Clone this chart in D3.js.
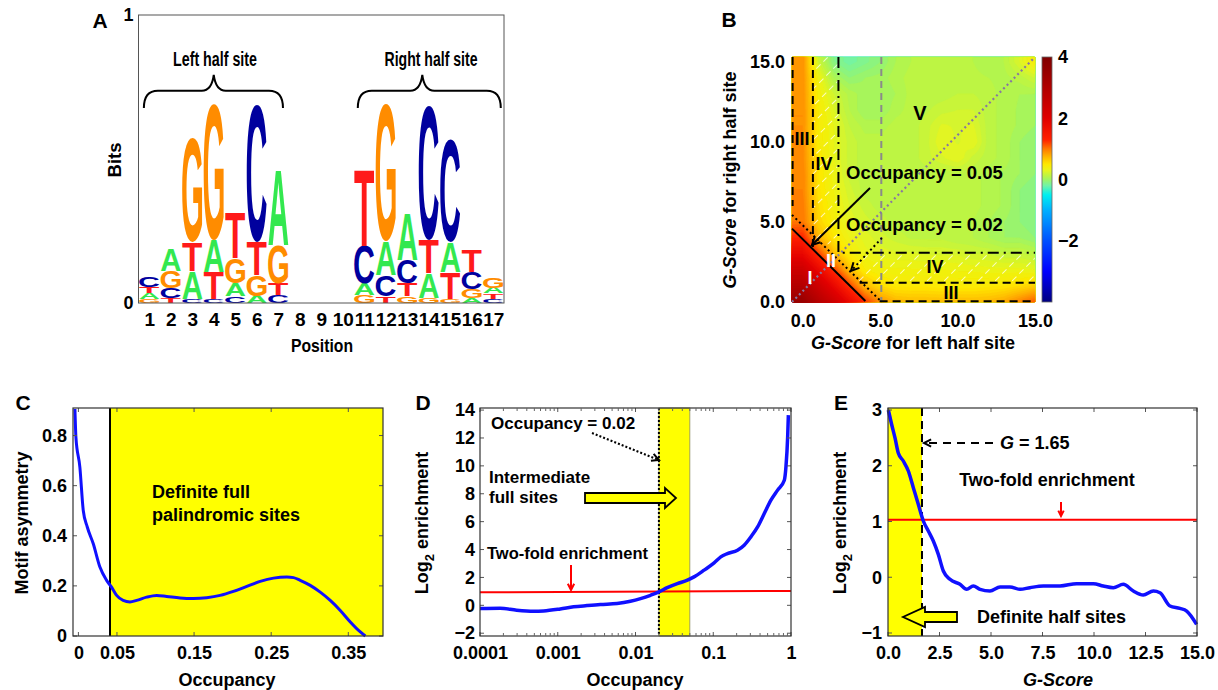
<!DOCTYPE html>
<html><head><meta charset="utf-8">
<script src="https://cdn.jsdelivr.net/npm/d3@7"></script>
<style>
body{margin:0;background:#fff;}
svg text{font-family:"Liberation Sans",Arial,sans-serif;font-weight:bold;fill:#000;}
</style></head><body>
<svg id="fig" width="1218" height="690" xmlns="http://www.w3.org/2000/svg"></svg>
<script>
// ================= DATA =================
// Panel A: sequence logo (bottom -> top, bits)
const logoPositions = [1,2,3,4,5,6,7,8,9,10,11,12,13,14,15,16,17];
const logoStacks = [
  [["G",0.014],["A",0.021],["T",0.021],["C",0.035]],
  [["T",0.017],["C",0.035],["G",0.058],["A",0.078]],
  [["C",0.014],["A",0.096],["T",0.100],["G",0.360]],
  [["C",0.014],["T",0.093],["A",0.113],["G",0.470]],
  [["C",0.023],["A",0.046],["G",0.087],["T",0.156]],
  [["A",0.025],["G",0.072],["T",0.115],["C",0.477]],
  [["C",0.029],["T",0.040],["G",0.133],["A",0.263]],
  [], [], [],
  [["G",0.029],["A",0.040],["C",0.130],["T",0.266]],
  [["T",0.023],["C",0.075],["A",0.116],["G",0.477]],
  [["G",0.023],["T",0.046],["C",0.081],["A",0.160]],
  [["G",0.017],["A",0.087],["T",0.116],["C",0.465]],
  [["G",0.015],["T",0.091],["A",0.105],["C",0.358]],
  [["A",0.017],["G",0.031],["C",0.061],["T",0.078]],
  [["C",0.014],["T",0.019],["A",0.020],["G",0.037]]
];
const logoYTicks = [0, 1];
const baseColors = {A:"#33e84f", C:"#00009e", G:"#ff8c00", T:"#ff1a1a"};

// Panel B: log2 enrichment grid, G-score left (cols 0..15) x right (rows, listed y=15 down to y=0)
const heatGX = [0,1,2,3,4,5,6,7,8,9,10,11,12,13,14,15];
const heatGY = [15,14,13,12,11,10,9,8,7,6,5,4,3,2,1,0];
const heatRows = [
  [0.90,0.20,-0.10,-0.18,-0.12,-0.05,0.05,0.10,0.12,0.12,0.12,0.10,0.05,0.10,0.25,0.45],
  [0.90,0.35,0.05,-0.05,0.00,0.02,0.08,0.12,0.12,0.12,0.12,0.12,0.10,0.08,0.12,0.20],
  [0.90,0.40,0.20,0.08,0.02,0.00,0.05,0.12,0.12,0.12,0.15,0.15,0.12,0.08,0.05,0.05],
  [0.90,0.45,0.25,0.10,0.00,0.00,0.08,0.12,0.14,0.18,0.20,0.20,0.12,0.08,0.04,0.00],
  [0.90,0.45,0.30,0.15,0.08,0.08,0.12,0.12,0.18,0.26,0.24,0.26,0.12,0.08,0.04,0.00],
  [0.92,0.45,0.30,0.18,0.12,0.12,0.12,0.12,0.18,0.30,0.24,0.30,0.12,0.08,0.00,-0.05],
  [0.92,0.50,0.30,0.18,0.12,0.12,0.12,0.12,0.18,0.24,0.30,0.18,0.12,0.08,0.00,-0.05],
  [0.95,0.50,0.33,0.18,0.12,0.12,0.12,0.12,0.12,0.12,0.12,0.12,0.08,0.04,0.00,-0.05],
  [0.95,0.52,0.35,0.22,0.12,0.12,0.12,0.12,0.12,0.12,0.12,0.12,0.08,0.04,-0.05,-0.10],
  [0.98,0.55,0.38,0.25,0.18,0.12,0.12,0.12,0.12,0.12,0.12,0.12,0.08,0.04,-0.05,-0.10],
  [1.00,0.60,0.42,0.28,0.22,0.18,0.12,0.12,0.12,0.12,0.12,0.10,0.05,0.00,-0.05,-0.10],
  [1.30,0.75,0.50,0.35,0.28,0.22,0.18,0.14,0.14,0.14,0.10,0.10,0.05,0.00,0.00,-0.05],
  [1.80,1.20,0.70,0.45,0.32,0.28,0.26,0.26,0.24,0.24,0.24,0.20,0.20,0.16,0.16,0.12],
  [2.40,1.80,1.20,0.70,0.45,0.38,0.36,0.36,0.36,0.36,0.34,0.34,0.32,0.32,0.32,0.30],
  [2.90,2.40,1.80,1.20,0.72,0.55,0.48,0.48,0.48,0.46,0.46,0.46,0.48,0.50,0.55,0.62],
  [3.50,2.90,2.40,1.80,1.25,0.90,0.75,0.72,0.72,0.72,0.72,0.72,0.74,0.80,0.95,1.10]
];
const heatColorStops = [-4,-3,-2,-1,-0.5,-0.2,-0.05,0.05,0.15,0.3,0.5,0.75,1.0,1.3,2.0,3.0,4.0];
const heatColors = ["#000080","#0000ff","#0050ff","#00b0ff","#00f0f0","#70f4a8","#92f476","#aef552","#c2f53e","#e8f51e","#ffe800","#ffb400","#ff7800","#ff2000","#e00000","#b00000","#800000"];
const bTicks = [0,5,10,15];
const cbarTicks = [4,2,0,-2];

// Panel C: motif asymmetry vs occupancy
const cOccupancy = [-0.0045,-0.0032,0.0019,0.0063,0.0115,0.0193,0.0279,0.0366,0.043,0.0496,0.058,0.0669,0.0755,0.0885,0.1015,0.1145,0.1318,0.1491,0.1664,0.1838,0.201,0.2184,0.2357,0.253,0.2703,0.279,0.2876,0.3006,0.3136,0.3266,0.3396,0.3526,0.3656,0.3721];
const cAsym = [0.906,0.793,0.674,0.501,0.435,0.368,0.275,0.222,0.195,0.162,0.142,0.136,0.142,0.155,0.162,0.158,0.152,0.150,0.153,0.162,0.178,0.198,0.218,0.231,0.235,0.233,0.222,0.202,0.175,0.142,0.102,0.056,0.016,0.0];
const cXTicks = [0,0.05,0.15,0.25,0.35];
const cYTicks = [0,0.2,0.4,0.6,0.8];
const cCutoff = 0.041;

// Panel D: log2 enrichment vs occupancy
const dOccupancy = [0.0001,0.000181,0.000297,0.000488,0.000656,0.001076,0.0016,0.002377,0.00353,0.0058,0.0086,0.0116,0.0156,0.02,0.0256,0.0345,0.0465,0.0566,0.0762,0.1026,0.125,0.152,0.205,0.25,0.305,0.372,0.453,0.552,0.673,0.82,0.861,0.906,0.925];
const dLog2 = [-0.23,-0.21,-0.35,-0.42,-0.40,-0.26,-0.11,-0.02,0.06,0.13,0.29,0.48,0.72,0.96,1.27,1.56,1.80,2.04,2.52,3.04,3.47,3.71,3.95,4.31,4.91,5.62,6.58,7.54,8.26,8.97,9.93,12.08,13.64];
const dXTicks = [0.0001,0.001,0.01,0.1,1];
const dYTicks = [-2,0,2,4,6,8,10,12,14];
const dBand = [0.02, 0.05];
const dTwoFold = [[0.0001,0.93],[1,1.03]];

// Panel E: log2 enrichment vs G-score
const eGScore = [0.016,0.178,0.34,0.50,0.744,0.987,1.23,1.47,1.715,1.958,2.20,2.443,2.686,3.01,3.495,3.82,4.14,4.47,4.95,5.44,5.92,6.41,6.89,7.54,8.35,9.16,9.97,10.45,10.94,11.42,11.91,12.39,12.88,13.2,13.69,14.17,14.5,14.98];
const eLog2 = [3.0,2.74,2.50,2.23,2.085,1.906,1.607,1.308,1.009,0.83,0.65,0.41,0.112,-0.037,-0.127,-0.217,-0.157,-0.217,-0.247,-0.175,-0.175,-0.217,-0.187,-0.157,-0.157,-0.115,-0.115,-0.157,-0.187,-0.127,-0.247,-0.318,-0.247,-0.277,-0.516,-0.558,-0.606,-0.845];
const eXTicks = [0,2.5,5,7.5,10,12.5,15];
const eYTicks = [-1,0,1,2,3];
const eCutoff = 1.65;
const eTwoFold = 1.03;

// ================= DRAW =================
const svg = d3.select("#fig");
const FONT = "'Liberation Sans', Arial, sans-serif";

function styleAxis(g, size){
  g.attr("font-family", FONT).attr("font-size", size||18).attr("font-weight","bold");
  g.selectAll(".domain").remove();
  g.selectAll(".tick line").attr("stroke","#444");
  g.selectAll(".tick text").attr("fill","#000");
}
function label(x,y,txt,opts){
  opts = opts||{};
  const t = svg.append("text").attr("x",x).attr("y",y).attr("font-size",opts.size||18)
    .attr("text-anchor",opts.anchor||"start").text(txt);
  if(opts.fill) t.style("fill",opts.fill);
  if(opts.style) t.attr("font-style",opts.style);
  return t;
}
function rotLabel(cx,cy,parts,size){
  const t = svg.append("text").attr("transform",`translate(${cx},${cy}) rotate(-90)`)
    .attr("text-anchor","middle").attr("font-size",size||18).attr("dy","0.35em");
  parts.forEach(p=>{ const s=t.append("tspan").text(p.t); if(p.i) s.attr("font-style","italic");
    if(p.sub){ s.attr("font-size",13).attr("dy",6);} if(p.after) s.attr("dy",-6); });
  return t;
}
function openHead(g,x,y,ang,size,color,w){
  const a1=ang+Math.PI*0.85, a2=ang-Math.PI*0.85;
  g.append("path").attr("d",`M${x+size*Math.cos(a1)},${y+size*Math.sin(a1)}L${x},${y}L${x+size*Math.cos(a2)},${y+size*Math.sin(a2)}`)
   .attr("fill","none").attr("stroke",color).attr("stroke-width",w||2);
}
function panelLetter(x,y,t){ label(x,y,t,{size:21,anchor:"middle"}); }

// ---------- Panel A ----------
const ax = d3.scaleLinear().domain([0.5,17.5]).range([138.5,504]);
const ay = d3.scaleLinear().domain([0,1]).range([303,15]);
const gA = svg.append("g");
const ctx = document.createElement("canvas").getContext("2d");
ctx.font = "bold 100px 'Liberation Sans'";
const met = {};
["A","C","G","T"].forEach(L=>{
  const m = ctx.measureText(L);
  let x0 = -(m.actualBoundingBoxLeft||0), x1 = m.actualBoundingBoxRight, asc=m.actualBoundingBoxAscent, desc=m.actualBoundingBoxDescent;
  if(!(x1>0) || !(asc>0)){ x0=2; x1=70; asc=72; desc=0; }
  met[L]={x0,x1,asc,desc};
});
const letterW = 20;
logoPositions.forEach((p,i)=>{
  let cum = 0;
  logoStacks[i].forEach(([L,h])=>{
    const yb = ay(cum), yt = ay(cum+h);
    cum += h;
    const H = yb-yt; if(H<=0.2) return;
    const m = met[L];
    const sx = letterW/(m.x1-m.x0), sy = H/(m.asc+m.desc);
    const X = ax(p)-letterW/2;
    gA.append("text").text(L).attr("font-size",100).style("fill",baseColors[L])
      .attr("transform",`translate(${X - m.x0*sx},${yb - m.desc*sy}) scale(${sx},${sy})`);
  });
});
gA.append("rect").attr("x",ax(0.5)).attr("y",ay(1)).attr("width",ax(17.5)-ax(0.5)).attr("height",ay(0)-ay(1))
  .attr("fill","none").attr("stroke","#555").attr("stroke-width",1);
const axA = svg.append("g").attr("transform",`translate(0,${ay(0)})`)
  .call(d3.axisBottom(ax).tickValues(logoPositions).tickSize(0).tickPadding(10).tickFormat(d3.format("d")));
styleAxis(axA,19);
const ayA = svg.append("g").attr("transform",`translate(${ax(0.5)},0)`)
  .call(d3.axisLeft(ay).tickValues(logoYTicks).tickSize(0).tickPadding(5).tickFormat(d3.format("d")));
styleAxis(ayA,18);
function brace(p0,p1,pm,bEnd,bMid,bTip){
  const x0=ax(p0),x1=ax(p1),xm=ax(pm),ye=ay(bEnd),ym=ay(bMid),yt=ay(bTip);
  const r=14;
  const d=`M${x0},${ye} Q${x0},${ym} ${x0+r},${ym} L${xm-12},${ym} Q${xm-2},${ym} ${xm},${yt} Q${xm+2},${ym} ${xm+12},${ym} L${x1-r},${ym} Q${x1},${ym} ${x1},${ye}`;
  gA.append("path").attr("d",d).attr("fill","none").attr("stroke","#000").attr("stroke-width",2);
}
brace(0.75,7.22,4.0,0.677,0.737,0.792);
brace(10.7,17.35,13.7,0.677,0.737,0.792);
label(215,66,"Left half site",{size:19.5,anchor:"middle"}).attr("textLength",84).attr("lengthAdjust","spacingAndGlyphs");
label(431,66,"Right half site",{size:19.5,anchor:"middle"}).attr("textLength",93).attr("lengthAdjust","spacingAndGlyphs");
label(322,352,"Position",{size:18.5,anchor:"middle"}).attr("textLength",62).attr("lengthAdjust","spacingAndGlyphs");
rotLabel(115,160,[{t:"Bits"}],18.5);
panelLetter(100,28,"A");

// ---------- Panel B ----------
const bx = d3.scaleLinear().domain([-0.7,15]).range([792,1035]);
const by = d3.scaleLinear().domain([0,15.3]).range([302,57]);
const heatColor = d3.scaleLinear().domain(heatColorStops).range(heatColors).clamp(true);
function gridVal(x,y){
  const xi=Math.max(heatGX[0],Math.min(heatGX[heatGX.length-1],x));
  const yi=Math.max(0,Math.min(15,y));
  const i0=Math.min(14,Math.floor(xi)), j0=Math.min(14,Math.floor(yi));
  const fx=xi-i0, fy=yi-j0;
  const v=(j,i)=>heatRows[heatGY.indexOf(j)][i];
  return v(j0,i0)*(1-fx)*(1-fy)+v(j0,i0+1)*fx*(1-fy)+v(j0+1,i0)*(1-fx)*fy+v(j0+1,i0+1)*fx*fy;
}
const bX0=bx.range()[0], bY0=by.range()[1];
const nx=Math.round(bx.range()[1]-bx.range()[0]), ny=Math.round(by.range()[0]-by.range()[1]);
const vals=new Array(nx*ny);
for(let j=0;j<ny;j++) for(let i=0;i<nx;i++) vals[j*nx+i]=gridVal(bx.invert(bX0+i+0.5), by.invert(bY0+j+0.5));
const thr = d3.range(-0.5,4.001,0.05);
const conts = d3.contours().size([nx,ny]).thresholds(thr)(vals);
const gB = svg.append("g");
gB.append("rect").attr("x",bX0).attr("y",bY0).attr("width",nx).attr("height",ny).attr("fill",heatColor(d3.min(vals)));
const gpath = d3.geoPath(d3.geoIdentity().translate([bX0,bY0]));
gB.selectAll("path.ct").data(conts).join("path").attr("class","ct").attr("d",gpath)
  .attr("fill",d=>heatColor(d.value+0.025)).attr("stroke",d=>heatColor(d.value+0.025)).attr("stroke-width",0.3);
const defs = svg.append("defs");
const cp = defs.append("clipPath").attr("id","hatchClip");
cp.append("rect").attr("x",bx(0.65)).attr("y",by(15.3)).attr("width",bx(2.3)-bx(0.65)).attr("height",by(3.6)-by(15.3));
cp.append("rect").attr("x",bx(3.6)).attr("y",by(3.08)).attr("width",bx(15)-bx(3.6)).attr("height",by(1.2)-by(3.08));
const hg = gB.append("g").attr("clip-path","url(#hatchClip)");
d3.range(-260,260,17).forEach(k=>{
  hg.append("line").attr("x1",bX0+k).attr("y1",302).attr("x2",bX0+k+245).attr("y2",57)
    .attr("stroke","#fff").attr("stroke-width",1.1).attr("stroke-dasharray","6,4").attr("opacity",0.7);
});
const bLine = d3.line().x(d=>bx(d[0])).y(d=>by(d[1]));
const bSolid = [[-0.7,4.58],[4.04,0.06]];
const bDotted = [[-0.7,5.44],[5.1,0.0]];
const bDiag = [[-0.7,0],[15,15.3]];
const bGray = [[5.07,15.3],[5.07,0]];
const bDashed = [ [[-0.66,15.3],[-0.66,6.0]], [[0.65,15.3],[0.65,3.3]], [[3.67,1.2],[15,1.2]], [[4.96,0.04],[15,0.04]] ];
const bDashDot = [[2.3,15.3],[2.3,3.08],[15,3.08]];
gB.append("path").attr("d",bLine(bGray)).attr("stroke","#8a8a8a").attr("stroke-width",2).attr("stroke-dasharray","7,5").attr("fill","none");
gB.append("path").attr("d",bLine(bDiag)).attr("stroke","#8878a0").attr("stroke-width",2.2).attr("stroke-dasharray","2,3").attr("fill","none");
bDashed.forEach(s=>gB.append("path").attr("d",bLine(s)).attr("stroke","#000").attr("stroke-width",2).attr("stroke-dasharray","8,5").attr("fill","none"));
gB.append("path").attr("d",bLine(bDashDot)).attr("stroke","#000").attr("stroke-width",2).attr("stroke-dasharray","11,5,2,5").attr("fill","none");
gB.append("path").attr("d",bLine(bSolid)).attr("stroke","#000").attr("stroke-width",2).attr("fill","none");
gB.append("path").attr("d",bLine(bDotted)).attr("stroke","#000").attr("stroke-width",2).attr("stroke-dasharray","2,3").attr("fill","none");
function arrowB(p0,p1,dash){
  const x0=bx(p0[0]),y0=by(p0[1]),x1=bx(p1[0]),y1=by(p1[1]);
  const l=gB.append("line").attr("x1",x0).attr("y1",y0).attr("x2",x1).attr("y2",y1).attr("stroke","#000").attr("stroke-width",2);
  if(dash) l.attr("stroke-dasharray",dash);
  openHead(gB,x1,y1,Math.atan2(y1-y0,x1-x0),9,"#000",2);
}
arrowB([4.34,7.12],[0.59,3.56],null);
arrowB([5.11,4.0],[3.11,1.94],"2,3");
[["V",7.57,11.8,20,"#000"],["III",-0.05,10.24,18,"#000"],["IV",1.37,8.62,18,"#000"],["IV",8.54,2.19,18,"#000"],["III",9.57,0.62,18,"#000"],["II",1.82,2.62,18,"#fff"],["I",0.46,1.56,18,"#fff"]]
 .forEach(([t,x,y,s,c])=>label(bx(x),by(y)+6.5,t,{size:s,anchor:"middle",fill:c}));
label(bx(2.79),by(8.06)+6.5,"Occupancy = 0.05",{size:18.5});
label(bx(2.79),by(4.87)+6.5,"Occupancy = 0.02",{size:18.5});
const axBx = svg.append("g").attr("transform",`translate(0,302)`)
  .call(d3.axisBottom(bx).tickValues(bTicks).tickSize(0).tickPadding(12).tickFormat(d3.format(".1f")));
styleAxis(axBx,18);
const axBy = svg.append("g").attr("transform",`translate(792,0)`)
  .call(d3.axisLeft(by).tickValues(bTicks).tickSize(0).tickPadding(7).tickFormat(d3.format(".1f")));
styleAxis(axBy,18);
rotLabel(730,180,[{t:"G-Score",i:true},{t:" for right half site"}],18);
const bxl = svg.append("text").attr("x",913).attr("y",349).attr("text-anchor","middle").attr("font-size",18);
bxl.append("tspan").attr("font-style","italic").text("G-Score"); bxl.append("tspan").text(" for left half site");
panelLetter(729,27,"B");
const cb = d3.scaleLinear().domain([-4,4]).range([302,57]);
const grad = defs.append("linearGradient").attr("id","cbGrad").attr("x1",0).attr("y1",1).attr("x2",0).attr("y2",0);
d3.range(-4,4.001,0.1).forEach(v=>grad.append("stop").attr("offset",(v+4)/8).attr("stop-color",heatColor(v)));
svg.append("rect").attr("x",1042).attr("y",57).attr("width",10).attr("height",245).attr("fill","url(#cbGrad)").attr("stroke","#666").attr("stroke-width",0.8);
const axCb = svg.append("g").attr("transform","translate(1052,0)")
  .call(d3.axisRight(cb).tickValues(cbarTicks).tickSize(0).tickPadding(6).tickFormat(d3.format("d")));
styleAxis(axCb,18);

function frame(xs,ys,xt,yt,len){
  const [x0,x1]=[xs.range()[0],xs.range()[1]], [y1,y0]=[ys.range()[0],ys.range()[1]];
  const g=svg.append("g");
  xt.forEach(v=>{const x=xs(v); g.append("line").attr("x1",x).attr("x2",x).attr("y1",y1).attr("y2",y1-len).attr("stroke","#555");
    g.append("line").attr("x1",x).attr("x2",x).attr("y1",y0).attr("y2",y0+len).attr("stroke","#555");});
  yt.forEach(v=>{const y=ys(v); g.append("line").attr("x1",x0).attr("x2",x0+len).attr("y1",y).attr("y2",y).attr("stroke","#555");
    g.append("line").attr("x1",x1).attr("x2",x1-len).attr("y1",y).attr("y2",y).attr("stroke","#555");});
  g.append("rect").attr("x",x0).attr("y",y0).attr("width",x1-x0).attr("height",y1-y0).attr("fill","none").attr("stroke","#333").attr("stroke-width",1.2);
  return g;
}

// ---------- Panel C ----------
const cx = d3.scaleLinear().domain([-0.007,0.395]).range([73,383]);
const cy = d3.scaleLinear().domain([0,0.91]).range([636,408]);
svg.append("rect").attr("x",cx(cCutoff)).attr("y",408).attr("width",383-cx(cCutoff)).attr("height",228).attr("fill","#ffff00");
svg.append("line").attr("x1",cx(cCutoff)).attr("x2",cx(cCutoff)).attr("y1",408).attr("y2",636).attr("stroke","#000").attr("stroke-width",2);
svg.append("path").datum(d3.zip(cOccupancy,cAsym))
  .attr("d",d3.line().x(d=>cx(d[0])).y(d=>cy(d[1])).curve(d3.curveMonotoneX))
  .attr("fill","none").attr("stroke","#1010ff").attr("stroke-width",3);
frame(cx,cy,cXTicks,cYTicks,4);
const axCx = svg.append("g").attr("transform","translate(0,636)")
  .call(d3.axisBottom(cx).tickValues(cXTicks).tickSize(0).tickPadding(10).tickFormat(d=>d===0?"0":d3.format(".2f")(d)));
styleAxis(axCx,18);
const axCy = svg.append("g").attr("transform","translate(73,0)")
  .call(d3.axisLeft(cy).tickValues(cYTicks).tickSize(0).tickPadding(6).tickFormat(d=>d===0?"0":d3.format(".1f")(d)));
styleAxis(axCy,18);
label(152,498,"Definite full",{size:18});
label(152,521,"palindromic sites",{size:18});
rotLabel(22,523,[{t:"Motif asymmetry"}],18);
label(227,686,"Occupancy",{size:18,anchor:"middle"});
panelLetter(23,410,"C");

// ---------- Panel D ----------
const dx = d3.scaleLog().domain([1e-4,1]).range([480,791]);
const dy = d3.scaleLinear().domain([-2.2,14.15]).range([636,408]);
svg.append("rect").attr("x",dx(dBand[0])).attr("y",408).attr("width",dx(dBand[1])-dx(dBand[0])).attr("height",228)
  .attr("fill","#ffff00").attr("stroke","#8a8a60").attr("stroke-width",0.8);
svg.append("line").attr("x1",dx(dBand[0])).attr("x2",dx(dBand[0])).attr("y1",408).attr("y2",636).attr("stroke","#000").attr("stroke-width",2).attr("stroke-dasharray","2,2");
svg.append("path").datum(dTwoFold).attr("d",d3.line().x(d=>dx(d[0])).y(d=>dy(d[1]))).attr("stroke","#ff0000").attr("stroke-width",2).attr("fill","none");
svg.append("path").datum(d3.zip(dOccupancy,dLog2))
  .attr("d",d3.line().x(d=>dx(d[0])).y(d=>dy(d[1])).curve(d3.curveMonotoneX))
  .attr("fill","none").attr("stroke","#1010ff").attr("stroke-width",3.5);
frame(dx,dy,dXTicks,dYTicks,4);
const minorD=[]; [1e-4,1e-3,1e-2,1e-1].forEach(b=>[2,3,4,5,6,7,8,9].forEach(k=>minorD.push(b*k)));
minorD.forEach(v=>{ svg.append("line").attr("x1",dx(v)).attr("x2",dx(v)).attr("y1",636).attr("y2",633).attr("stroke","#666");
  svg.append("line").attr("x1",dx(v)).attr("x2",dx(v)).attr("y1",408).attr("y2",411).attr("stroke","#666"); });
const axDx = svg.append("g").attr("transform","translate(0,636)")
  .call(d3.axisBottom(dx).tickValues(dXTicks).tickSize(0).tickPadding(10).tickFormat(d=>String(d)));
styleAxis(axDx,18);
const axDy = svg.append("g").attr("transform","translate(480,0)")
  .call(d3.axisLeft(dy).tickValues(dYTicks).tickSize(0).tickPadding(5).tickFormat(d3.format("d")));
styleAxis(axDy,18);
label(491,429,"Occupancy = 0.02",{size:17});
const dA0=[592,433], dA1=[dx(dBand[0]),460];
svg.append("line").attr("x1",dA0[0]).attr("y1",dA0[1]).attr("x2",dA1[0]).attr("y2",dA1[1]).attr("stroke","#000").attr("stroke-width",2).attr("stroke-dasharray","2,2");
openHead(svg,dA1[0],dA1[1],Math.atan2(dA1[1]-dA0[1],dA1[0]-dA0[0]),8,"#000",2);
label(489,483,"Intermediate",{size:17});
label(489,503,"full sites",{size:17});
svg.append("path").attr("d","M585,493 L665,493 L665,488 L676,498 L665,508 L665,503 L585,503 Z")
  .attr("fill","#ffff00").attr("stroke","#000").attr("stroke-width",1.8);
label(487,559,"Two-fold enrichment",{size:16.5});
svg.append("line").attr("x1",571).attr("x2",571).attr("y1",565).attr("y2",589).attr("stroke","#ff0000").attr("stroke-width",2);
openHead(svg,571,590,Math.PI/2,7,"#ff0000",2);
rotLabel(422,523,[{t:"Log"},{t:"2",sub:true},{t:" enrichment",after:true}],18);
label(635,686,"Occupancy",{size:18,anchor:"middle"});
panelLetter(423,410,"D");

// ---------- Panel E ----------
const ex = d3.scaleLinear().domain([0,15]).range([888,1197]);
const ey = d3.scaleLinear().domain([-1.054,3.036]).range([636,408]);
svg.append("rect").attr("x",888).attr("y",408).attr("width",ex(eCutoff)-888).attr("height",228).attr("fill","#ffff00");
svg.append("line").attr("x1",ex(eCutoff)).attr("x2",ex(eCutoff)).attr("y1",408).attr("y2",636).attr("stroke","#000").attr("stroke-width",2).attr("stroke-dasharray","8,5");
svg.append("line").attr("x1",ex(0)).attr("x2",ex(15)).attr("y1",ey(eTwoFold)).attr("y2",ey(eTwoFold)).attr("stroke","#ff0000").attr("stroke-width",2);
svg.append("path").datum(d3.zip(eGScore,eLog2))
  .attr("d",d3.line().x(d=>ex(d[0])).y(d=>ey(d[1])).curve(d3.curveMonotoneX))
  .attr("fill","none").attr("stroke","#1010ff").attr("stroke-width",3.5);
frame(ex,ey,eXTicks,eYTicks,4);
const axEx = svg.append("g").attr("transform","translate(0,636)")
  .call(d3.axisBottom(ex).tickValues(eXTicks).tickSize(0).tickPadding(10).tickFormat(d3.format(".1f")));
styleAxis(axEx,18);
const axEy = svg.append("g").attr("transform","translate(888,0)")
  .call(d3.axisLeft(ey).tickValues(eYTicks).tickSize(0).tickPadding(6).tickFormat(d3.format("d")));
styleAxis(axEy,18);
const gl = svg.append("text").attr("x",1000).attr("y",449).attr("font-size",18);
gl.append("tspan").attr("font-style","italic").text("G"); gl.append("tspan").text(" = 1.65");
svg.append("line").attr("x1",993).attr("x2",ex(eCutoff)+3).attr("y1",443).attr("y2",443).attr("stroke","#000").attr("stroke-width",2).attr("stroke-dasharray","8,6");
openHead(svg,ex(eCutoff)+2,443,Math.PI,8,"#000",2);
label(1047,486,"Two-fold enrichment",{size:18,anchor:"middle"});
svg.append("line").attr("x1",1061).attr("x2",1061).attr("y1",502).attr("y2",515).attr("stroke","#ff0000").attr("stroke-width",2);
openHead(svg,1061,516,Math.PI/2,6,"#ff0000",2);
svg.append("path").attr("d","M957,612 L925,612 L925,607 L903,617 L925,627 L925,622 L957,622 Z")
  .attr("fill","#ffff00").attr("stroke","#000").attr("stroke-width",1.8);
label(977,623,"Definite half sites",{size:18});
rotLabel(840,523,[{t:"Log"},{t:"2",sub:true},{t:" enrichment",after:true}],18);
const exl = svg.append("text").attr("x",1058).attr("y",686).attr("text-anchor","middle").attr("font-size",18);
exl.append("tspan").attr("font-style","italic").text("G-Score");
panelLetter(841,410,"E");
</script>
</body></html>
